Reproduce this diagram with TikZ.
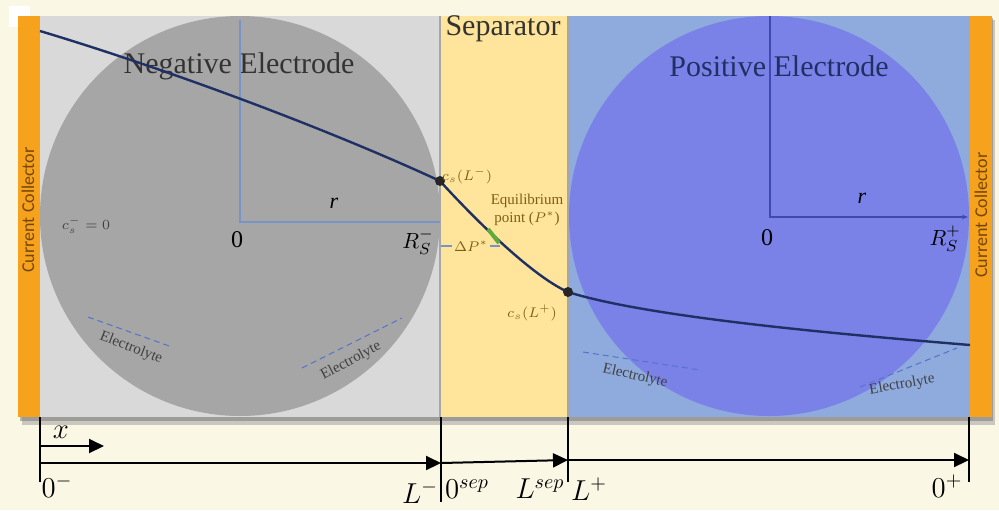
\documentclass[tikz,border=0pt]{standalone}
\usepackage{fontspec}
\setmainfont{Liberation Serif}
\setsansfont{Carlito}
\usetikzlibrary{arrows.meta}

\definecolor{paper}{RGB}{250,247,229}
\definecolor{collector}{RGB}{247,162,28}
\definecolor{colltext}{RGB}{115,70,10}
\definecolor{negbg}{RGB}{217,217,217}
\definecolor{negball}{RGB}{166,166,166}
\definecolor{sepbg}{RGB}{255,229,155}
\definecolor{posbg}{RGB}{143,170,220}
\definecolor{posball}{RGB}{122,130,232}
\definecolor{conc}{RGB}{30,48,100}
\definecolor{negaxis}{RGB}{118,148,200}
\definecolor{posaxis}{RGB}{62,74,176}
\definecolor{lbl}{RGB}{125,95,20}
\definecolor{eqgreen}{RGB}{95,170,60}
\definecolor{elyte}{RGB}{85,115,200}

\begin{document}
\begin{tikzpicture}[x=0.5pt,y=-0.5pt,
  title/.style={font=\fontsize{15}{17}\selectfont},
  colllabel/.style={rotate=90,text=colltext,font=\sffamily\fontsize{9}{10}\selectfont},
  axislabel/.style={font=\fontsize{14}{16}\selectfont},
  small/.style={text=lbl,font=\fontsize{7.5}{9}\selectfont},
  elabel/.style={text=black!75,font=\fontsize{7.5}{9}\selectfont},
  edash/.style={elyte,densely dashed,line width=0.5pt},
  scale arrow/.style={-{Triangle[length=7.5pt,width=7pt]},line width=1pt}]

\fill[paper] (0,0) rectangle (999,510);
\useasboundingbox (0,0) rectangle (999,510);

% panel and shadow
\fill[black!40,opacity=.5] (22,20) rectangle (995,425);
\fill[black!55,opacity=.5] (20,18) rectangle (993,421);
\fill[white] (9,6) rectangle (30,27);

\fill[negbg] (40,16) rectangle (440,417);
\fill[sepbg] (440,16) rectangle (568,417);
\fill[posbg] (568,16) rectangle (970,417);

\begin{scope}
\clip (40,16) rectangle (440,417);
\fill[negball] (240,216) circle (200);
\end{scope}
\begin{scope}
\clip (568,16) rectangle (970,417);
\fill[posball] (769,216) circle (200);
\end{scope}

\draw[black!35,line width=0.8pt] (440,16) -- (440,417);
\draw[black!35,line width=0.8pt] (568,16) -- (568,417);

\fill[collector] (18,16) rectangle (40,417);
\fill[collector] (970,16) rectangle (992,417);
\node[colllabel] (collneg) at (28,210) {Current Collector};
\node[colllabel] (collpos) at (981,215) {Current Collector};

\node[title,text=black!80] (negtitle) at (239,66) {Negative Electrode};
\node[title,text=black!80] (septitle) at (503,29) {Separator};
\node[title,text=conc] (postitle) at (779,66) {Positive Electrode};

% particle radii
\coordinate (n0) at (240,222);
\coordinate (ntop) at (240,20);
\coordinate (nR) at (440,222);
\draw[negaxis,line width=1pt] (ntop) -- (n0) -- (nR);
\node[font=\fontsize{11}{12}\selectfont\itshape] (nr) at (334,203) {r};
\node[font=\fontsize{12}{13}\selectfont] (nzero) at (237,240) {0};
\node[font=\fontsize{11}{12}\selectfont] (nRs) at (418,242) {$R_S^-$};

\coordinate (p0) at (770,217);
\coordinate (ptop) at (770,16);
\coordinate (pR) at (968,217);
\draw[posaxis,line width=1pt,-{Stealth[length=3pt]}] (ptop) -- (p0) -- (pR);
\node[font=\fontsize{11}{12}\selectfont\itshape] (pr) at (862,198) {r};
\node[font=\fontsize{12}{13}\selectfont] (pzero) at (767,238) {0};
\node[font=\fontsize{11}{12}\selectfont] (pRs) at (945,239) {$R_S^+$};

\node[text=black!75,font=\fontsize{7}{8}\selectfont] (cinit) at (86,225) {$c_s^- = 0$};

% concentration profile
\coordinate (cstart) at (40,31);
\coordinate (cLm) at (440,181);
\coordinate (cLp) at (568,292);
\coordinate (cend) at (970,345);
\draw[conc,line width=1.2pt] (cstart) .. controls (170,70) and (330,130) .. (cLm)
  .. controls (470,214) and (530,275) .. (cLp)
  .. controls (650,318) and (850,335) .. (cend);
\fill[black!85] (cLm) circle (5);
\fill[black!85] (cLp) circle (5);
\draw[eqgreen,line width=2pt] (488,229) -- (499,243);

\node[small] (lcLm) at (467,176) {$c_s(L^-)$};
\node[small,align=center] (eqpt) at (527,210) {Equilibrium\\point ($P^*$)};
\node[small] (lcLp) at (532,313) {$c_s(L^+)$};
\node[small,inner sep=1pt] (dP) at (471,246) {$\Delta P^*$};
\draw[negaxis,line width=0.6pt] (441,246) -- (dP.west);
\draw[negaxis,line width=0.6pt] (dP.east) -- (500,246);

% electrolyte labels
\draw[edash] (88,317) -- (172,347);
\node[elabel,rotate=-21] (el1) at (131,348) {Electrolyte};
\draw[edash] (302,368) -- (402,318);
\node[elabel,rotate=28] (el2) at (351,361) {Electrolyte};
\draw[edash] (583,352) -- (700,370);
\node[elabel,rotate=-13] (el3) at (635,376) {Electrolyte};
\draw[edash] (860,387) -- (957,348);
\node[elabel,rotate=10] (el4) at (902,385) {Electrolyte};

% x axis
\coordinate (t0) at (40,417);
\coordinate (t0b) at (40,482);
\coordinate (t1) at (441,417);
\coordinate (t1b) at (441,502);
\coordinate (t2) at (568,417);
\coordinate (t2b) at (568,482);
\coordinate (t3) at (969,417);
\coordinate (t3b) at (969,482);
\draw[line width=1pt] (t0) -- (t0b);
\draw[line width=1pt] (t1) -- (t1b);
\draw[line width=1pt] (t2) -- (t2b);
\draw[line width=1pt] (t3) -- (t3b);

\coordinate (xs) at (40,446);
\coordinate (xe) at (104,446);
\draw[scale arrow] (xs) -- (xe);
\node[axislabel] (xlab) at (61,432) {$x$};

\coordinate (a0) at (40,463);
\coordinate (a1) at (441,463);
\coordinate (a2) at (568,460);
\coordinate (a3) at (969,460);
\draw[scale arrow] (a0) -- (a1);
\draw[scale arrow] (a1) -- (a2);
\draw[scale arrow] (a2) -- (a3);

\node[axislabel] (l0m) at (57,486) {$0^-$};
\node[axislabel] (lLm) at (420,492) {$L^-$};
\node[axislabel] (l0s) at (467,489) {$0^{sep}$};
\node[axislabel] (lLs) at (540,489) {$L^{sep}$};
\node[axislabel] (lLp) at (589,489) {$L^+$};
\node[axislabel] (l0p) at (947,486) {$0^+$};
\end{tikzpicture}
\end{document}
